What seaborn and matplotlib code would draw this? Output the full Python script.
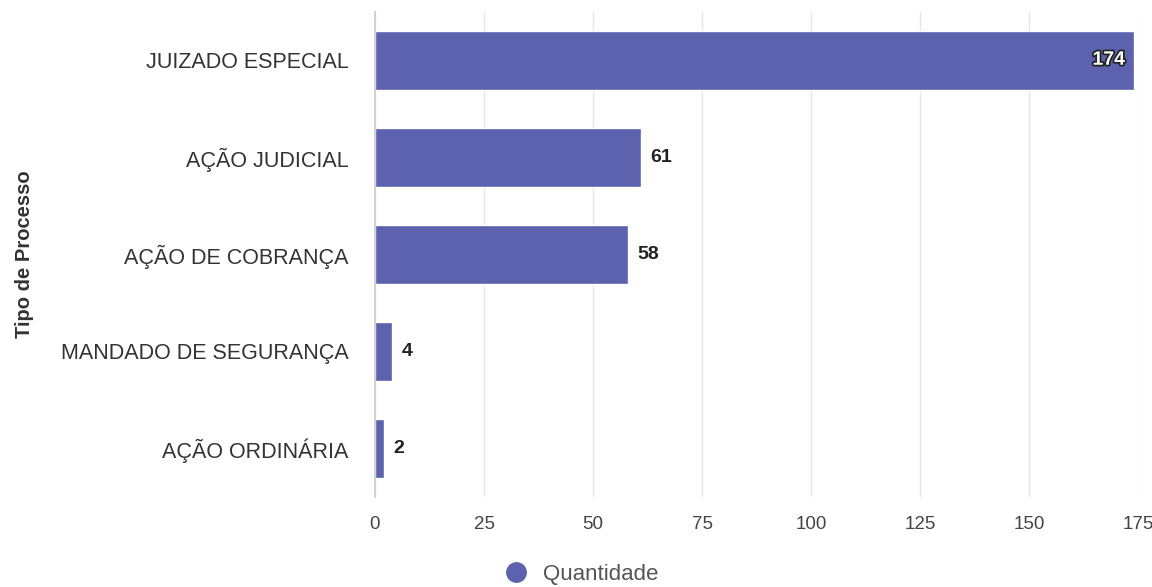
import matplotlib
matplotlib.use("Agg")
import matplotlib.pyplot as plt
import matplotlib.patheffects as pe
from matplotlib.lines import Line2D
import seaborn as sns
import pandas as pd

categories = ["JUIZADO ESPECIAL", "AÇÃO JUDICIAL", "AÇÃO DE COBRANÇA", "MANDADO DE SEGURANÇA", "AÇÃO ORDINÁRIA"]
values = [174, 61, 58, 4, 2]
xticks = [0, 25, 50, 75, 100, 125, 150, 175]
series_name = "Quantidade"
y_title = "Tipo de Processo"

color = "#5c62ae"
sns.set_theme(style="white")
plt.rcParams['font.family'] = ['Liberation Sans', 'DejaVu Sans']

df = pd.DataFrame({"cat": categories, "val": values})
fig = plt.figure(figsize=(11.52, 5.87), dpi=100)
ax = fig.add_axes([0.3255, 0.154, 0.6625, 0.826])
sns.barplot(data=df, y="cat", x="val", color=color, saturation=1, width=0.61, ax=ax, orient="h")

ax.set_xlim(0, 175)
ax.set_xticks(xticks)
ax.set_xticklabels([str(t) for t in xticks], fontsize=13.5, color="#444444")
ax.tick_params(axis="y", labelsize=15.5, colors="#333333", length=0, pad=19)
ax.tick_params(axis="x", length=0, pad=14)
ax.grid(axis="x", color="#e6e6e6", linewidth=1)
ax.set_axisbelow(True)
for s in ["top", "right", "bottom"]:
    ax.spines[s].set_visible(False)
ax.spines["left"].set_color("#cccccc")
ax.spines["left"].set_linewidth(1.2)
ax.set_xlabel("")
ax.set_ylabel(y_title, fontsize=14.5, fontweight="bold", color="#333333")
ax.yaxis.set_label_coords(-0.447, 0.5)

for i, v in enumerate(values):
    if v > 150:
        ax.text(v - 2, i, str(v), va="center", ha="right", fontsize=14, fontweight="bold",
                color="white", path_effects=[pe.withStroke(linewidth=2.5, foreground="#222222")])
    else:
        ax.text(v + 2.2, i, str(v), va="center", ha="left", fontsize=14, fontweight="bold", color="#222222")

handle = Line2D([], [], marker="o", linestyle="", markersize=14, markerfacecolor=color, markeredgecolor=color)
fig.legend([handle], [series_name], loc="center", bbox_to_anchor=(0.5, 0.022), frameon=False,
           fontsize=16, labelcolor="#555555", handletextpad=0.2)

fig.savefig("out.png", dpi=100)
